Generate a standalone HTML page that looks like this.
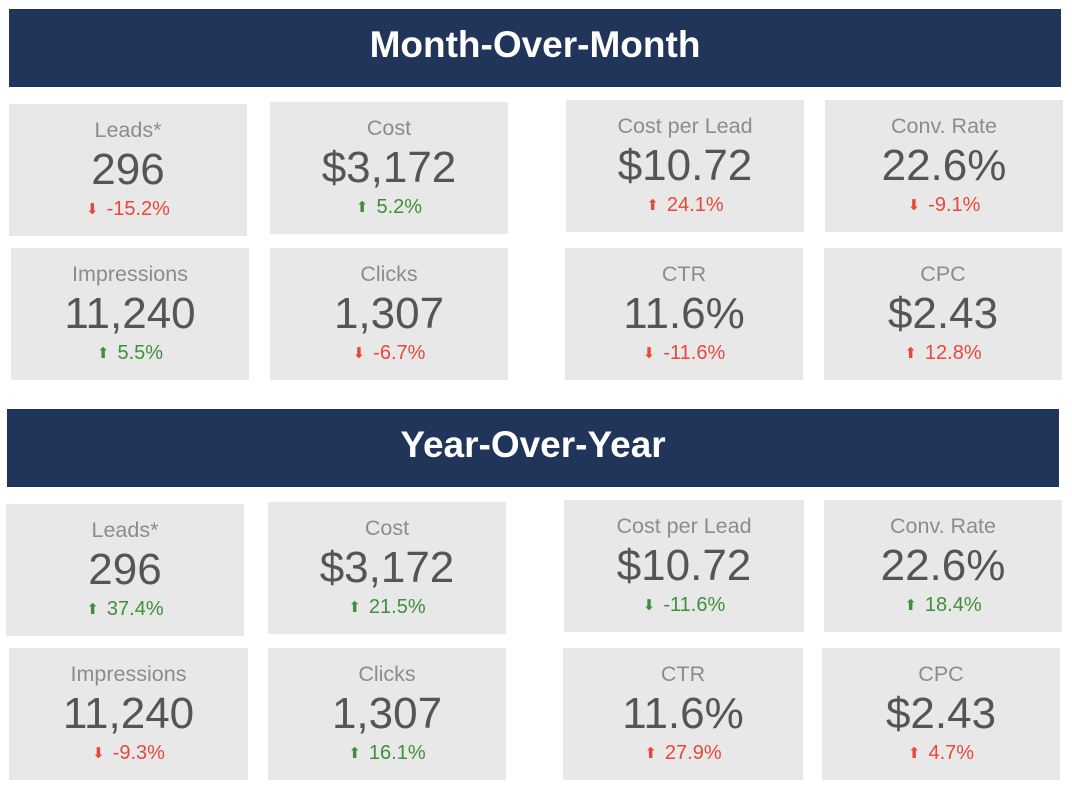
<!DOCTYPE html>
<html><head><meta charset="utf-8"><style>
body{margin:0;width:1072px;height:790px;background:#fff;position:relative;overflow:hidden;font-family:"Liberation Sans",sans-serif}
.h{position:absolute;background:#21345a;color:#fff;font-weight:bold;font-size:37px;text-align:center;display:flex;align-items:center;justify-content:center;padding-bottom:6px;box-sizing:border-box}
.b{position:absolute;background:#e8e8e8;width:238px;height:132px}
.b div{position:absolute;left:0;right:0;text-align:center;white-space:nowrap}
.t{top:14px;font-size:21.5px;line-height:24px;color:#8c8c8c}
.v{top:41px;font-size:44px;line-height:50px;color:#555}
.d{top:93px;font-size:20px;line-height:24px}
.r{color:#e8483a}.g{color:#3f8f3a}
.a{font-size:15px;margin-right:8px;position:relative;top:-1px}
</style></head><body>
<div class="h" style="left:9px;top:9px;width:1052px;height:78px">Month-Over-Month</div>
<div class="h" style="left:7px;top:409px;width:1052px;height:78px">Year-Over-Year</div>

<div class="b" style="left:9px;top:104px"><div class="t">Leads*</div><div class="v">296</div><div class="d r"><span class="a">⬇</span>-15.2%</div></div>
<div class="b" style="left:270px;top:102px"><div class="t">Cost</div><div class="v">$3,172</div><div class="d g"><span class="a">⬆</span>5.2%</div></div>
<div class="b" style="left:566px;top:100px"><div class="t">Cost per Lead</div><div class="v">$10.72</div><div class="d r"><span class="a">⬆</span>24.1%</div></div>
<div class="b" style="left:825px;top:100px"><div class="t">Conv. Rate</div><div class="v">22.6%</div><div class="d r"><span class="a">⬇</span>-9.1%</div></div>
<div class="b" style="left:11px;top:248px"><div class="t">Impressions</div><div class="v">11,240</div><div class="d g"><span class="a">⬆</span>5.5%</div></div>
<div class="b" style="left:270px;top:248px"><div class="t">Clicks</div><div class="v">1,307</div><div class="d r"><span class="a">⬇</span>-6.7%</div></div>
<div class="b" style="left:565px;top:248px"><div class="t">CTR</div><div class="v">11.6%</div><div class="d r"><span class="a">⬇</span>-11.6%</div></div>
<div class="b" style="left:824px;top:248px"><div class="t">CPC</div><div class="v">$2.43</div><div class="d r"><span class="a">⬆</span>12.8%</div></div>

<div class="b" style="left:6px;top:504px"><div class="t">Leads*</div><div class="v">296</div><div class="d g"><span class="a">⬆</span>37.4%</div></div>
<div class="b" style="left:268px;top:502px"><div class="t">Cost</div><div class="v">$3,172</div><div class="d g"><span class="a">⬆</span>21.5%</div></div>
<div class="b" style="left:564px;top:500px;width:240px"><div class="t">Cost per Lead</div><div class="v">$10.72</div><div class="d g"><span class="a">⬇</span>-11.6%</div></div>
<div class="b" style="left:824px;top:500px"><div class="t">Conv. Rate</div><div class="v">22.6%</div><div class="d g"><span class="a">⬆</span>18.4%</div></div>
<div class="b" style="left:9px;top:648px;width:239px"><div class="t">Impressions</div><div class="v">11,240</div><div class="d r"><span class="a">⬇</span>-9.3%</div></div>
<div class="b" style="left:268px;top:648px"><div class="t">Clicks</div><div class="v">1,307</div><div class="d g"><span class="a">⬆</span>16.1%</div></div>
<div class="b" style="left:563px;top:648px;width:240px"><div class="t">CTR</div><div class="v">11.6%</div><div class="d r"><span class="a">⬆</span>27.9%</div></div>
<div class="b" style="left:822px;top:648px"><div class="t">CPC</div><div class="v">$2.43</div><div class="d r"><span class="a">⬆</span>4.7%</div></div>
</body></html>
